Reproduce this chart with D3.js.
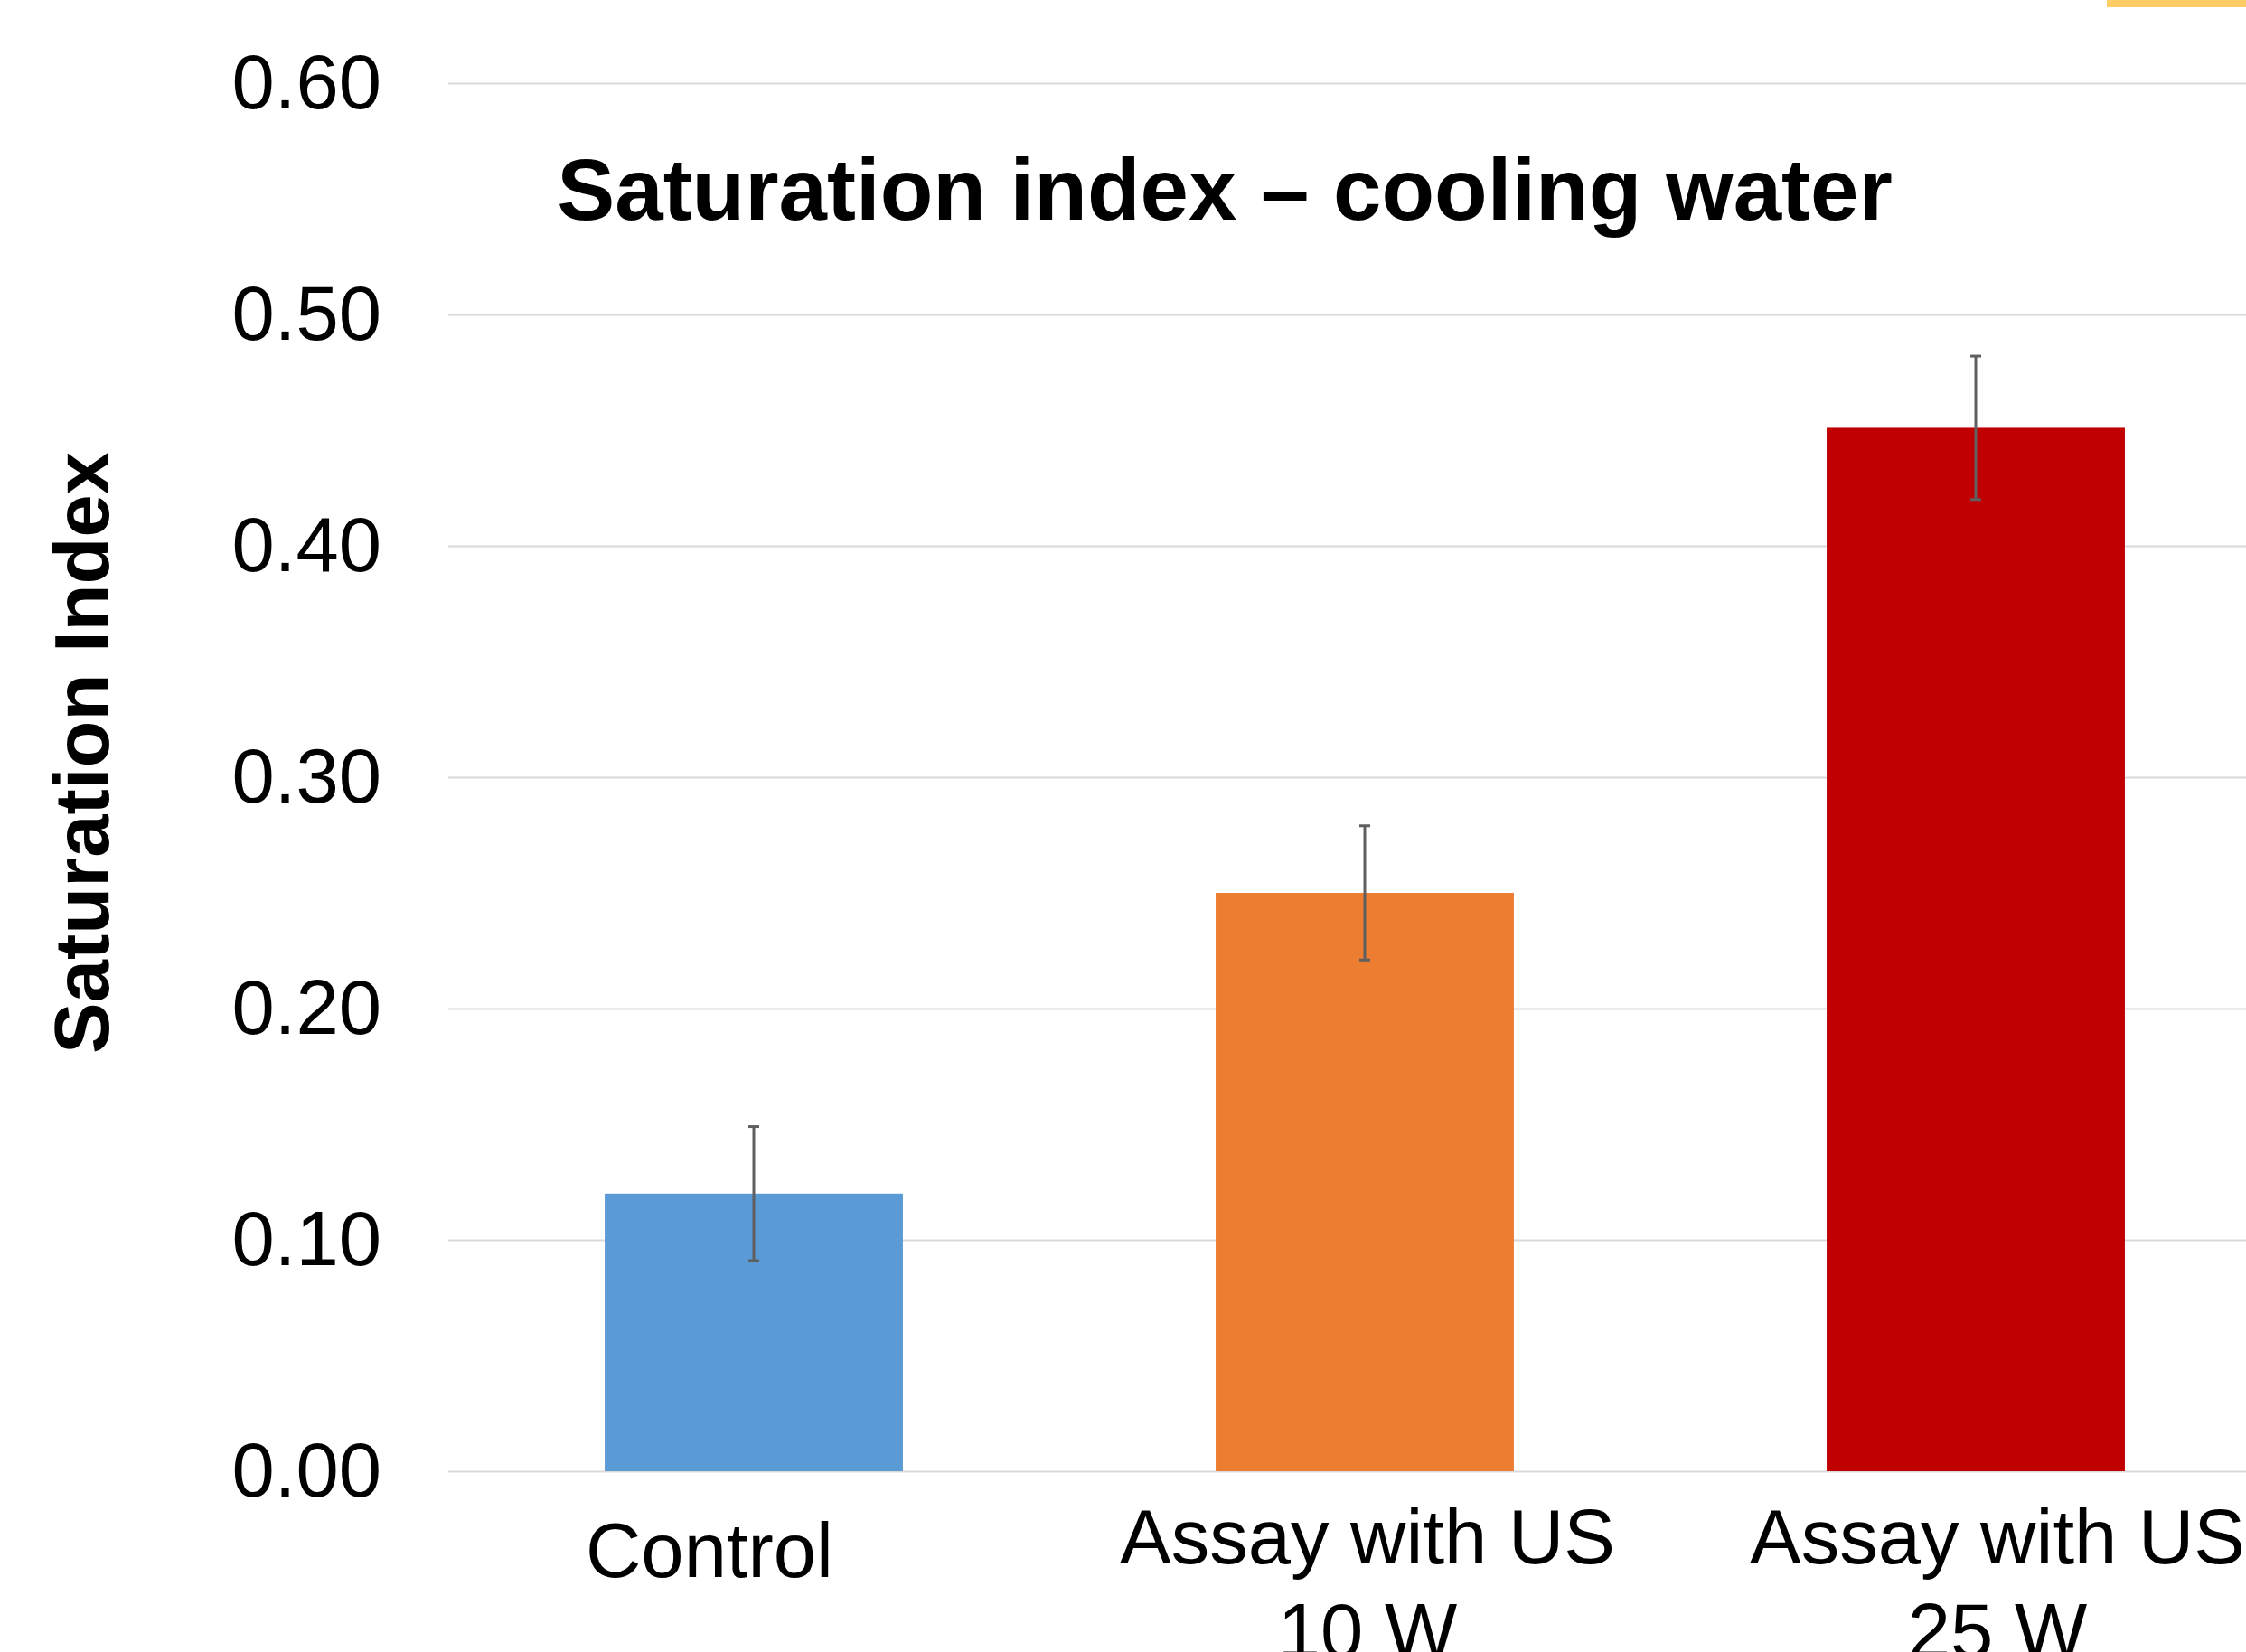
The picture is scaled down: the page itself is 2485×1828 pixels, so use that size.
<!DOCTYPE html>
<html>
<head>
<meta charset="utf-8">
<script src="https://cdn.jsdelivr.net/npm/d3@7"></script>
<style>
  html, body { margin: 0; padding: 0; background: #fff; overflow: hidden; }
  svg { display: block; font-family: "Liberation Sans", Arial, sans-serif; }
</style>
</head>
<body>
<div id="chart"></div>
<script>
// datos del gráfico
const categories = ['Control', 'Assay with US 10 W', 'Assay with US 25 W'];
const labelLines = [['Control'], ['Assay with US', '10 W'], ['Assay with US', '25 W']];
const values = [0.12, 0.25, 0.451];
const errors = [0.029, 0.029, 0.031];
const barColors = ['#5B9BD5', '#ED7D31', '#C00000'];
const yTicks = [0, 0.1, 0.2, 0.3, 0.4, 0.5, 0.6];

const W = 2485, H = 1828;
const plot = {left: 496, right: 2524, top: 92, bottom: 1628};

const svg = d3.select('#chart').append('svg')
    .attr('width', W)
    .attr('height', H);

// franja amarilla arriba a la derecha
svg.append('rect')
    .attr('x', 2331).attr('y', 0)
    .attr('width', W - 2331).attr('height', 8)
    .attr('fill', '#FFCC66');

// escalas
let x = d3.scaleBand()
    .domain(categories)
    .range([plot.left, plot.right])
    .paddingInner(0.512)
    .paddingOuter(0.256);

let y = d3.scaleLinear()
    .domain([0, 0.6])
    .range([plot.bottom, plot.top]);

// eje Y con rejilla
let yAxis = function(g) {
    g.call(d3.axisLeft(y).tickValues(yTicks).tickFormat(d3.format('.2f')).tickSize(0).tickPadding(74));
    g.select('.domain').remove();
    g.selectAll('.tick text')
        .attr('font-size', 85)
        .attr('fill', '#000')
        .attr('font-family', '"Liberation Sans", Arial, sans-serif');
    g.selectAll('.tick line')
        .attr('x1', 0)
        .attr('x2', plot.right - plot.left)
        .attr('stroke', '#D9D9D9')
        .attr('stroke-width', 2);
};

svg.append('g')
    .attr('transform', 'translate(' + plot.left + ',0)')
    .call(yAxis);

// barras
svg.selectAll('.bar')
    .data(categories)
    .enter()
    .append('rect')
    .attr('class', 'bar')
    .attr('x', d => x(d))
    .attr('y', (d, i) => y(values[i]))
    .attr('width', x.bandwidth())
    .attr('height', (d, i) => y(0) - y(values[i]))
    .attr('fill', (d, i) => barColors[i]);

// barras de error
let err = svg.selectAll('.err')
    .data(categories)
    .enter()
    .append('g')
    .attr('class', 'err')
    .attr('stroke', '#5F5F5F')
    .attr('stroke-width', 3);

err.append('line')
    .attr('x1', d => x(d) + x.bandwidth() / 2)
    .attr('x2', d => x(d) + x.bandwidth() / 2)
    .attr('y1', (d, i) => y(values[i] + errors[i]))
    .attr('y2', (d, i) => y(values[i] - errors[i]));

[1, -1].forEach(function(s) {
    err.append('line')
        .attr('x1', d => x(d) + x.bandwidth() / 2 - 6)
        .attr('x2', d => x(d) + x.bandwidth() / 2 + 6)
        .attr('y1', (d, i) => y(values[i] + s * errors[i]))
        .attr('y2', (d, i) => y(values[i] + s * errors[i]));
});

// etiquetas de categorías (ligero desplazamiento como en el original)
let labelDx = [-49, 3, 24];

let labels = svg.selectAll('.cat')
    .data(categories)
    .enter()
    .append('text')
    .attr('class', 'cat')
    .attr('text-anchor', 'middle')
    .attr('font-size', 85)
    .attr('fill', '#000');

labels.each(function(d, i) {
    let t = d3.select(this);
    let lines = labelLines[i];
    let cx = x(d) + x.bandwidth() / 2 + labelDx[i];
    let y0 = lines.length === 1 ? 1745 : 1730;
    lines.forEach(function(l, j) {
        t.append('tspan')
            .attr('x', cx)
            .attr('y', y0 + j * 104)
            .text(l);
    });
});

// título
svg.append('text')
    .attr('x', 1355)
    .attr('y', 243)
    .attr('text-anchor', 'middle')
    .attr('font-size', 96)
    .attr('font-weight', 'bold')
    .attr('fill', '#000')
    .text('Saturation index – cooling water');

// título eje Y
svg.append('text')
    .attr('transform', 'translate(120,' + 833 + ') rotate(-90)')
    .attr('text-anchor', 'middle')
    .attr('font-size', 85)
    .attr('font-weight', 'bold')
    .attr('fill', '#000')
    .text('Saturation Index');
</script>
</body>
</html>
